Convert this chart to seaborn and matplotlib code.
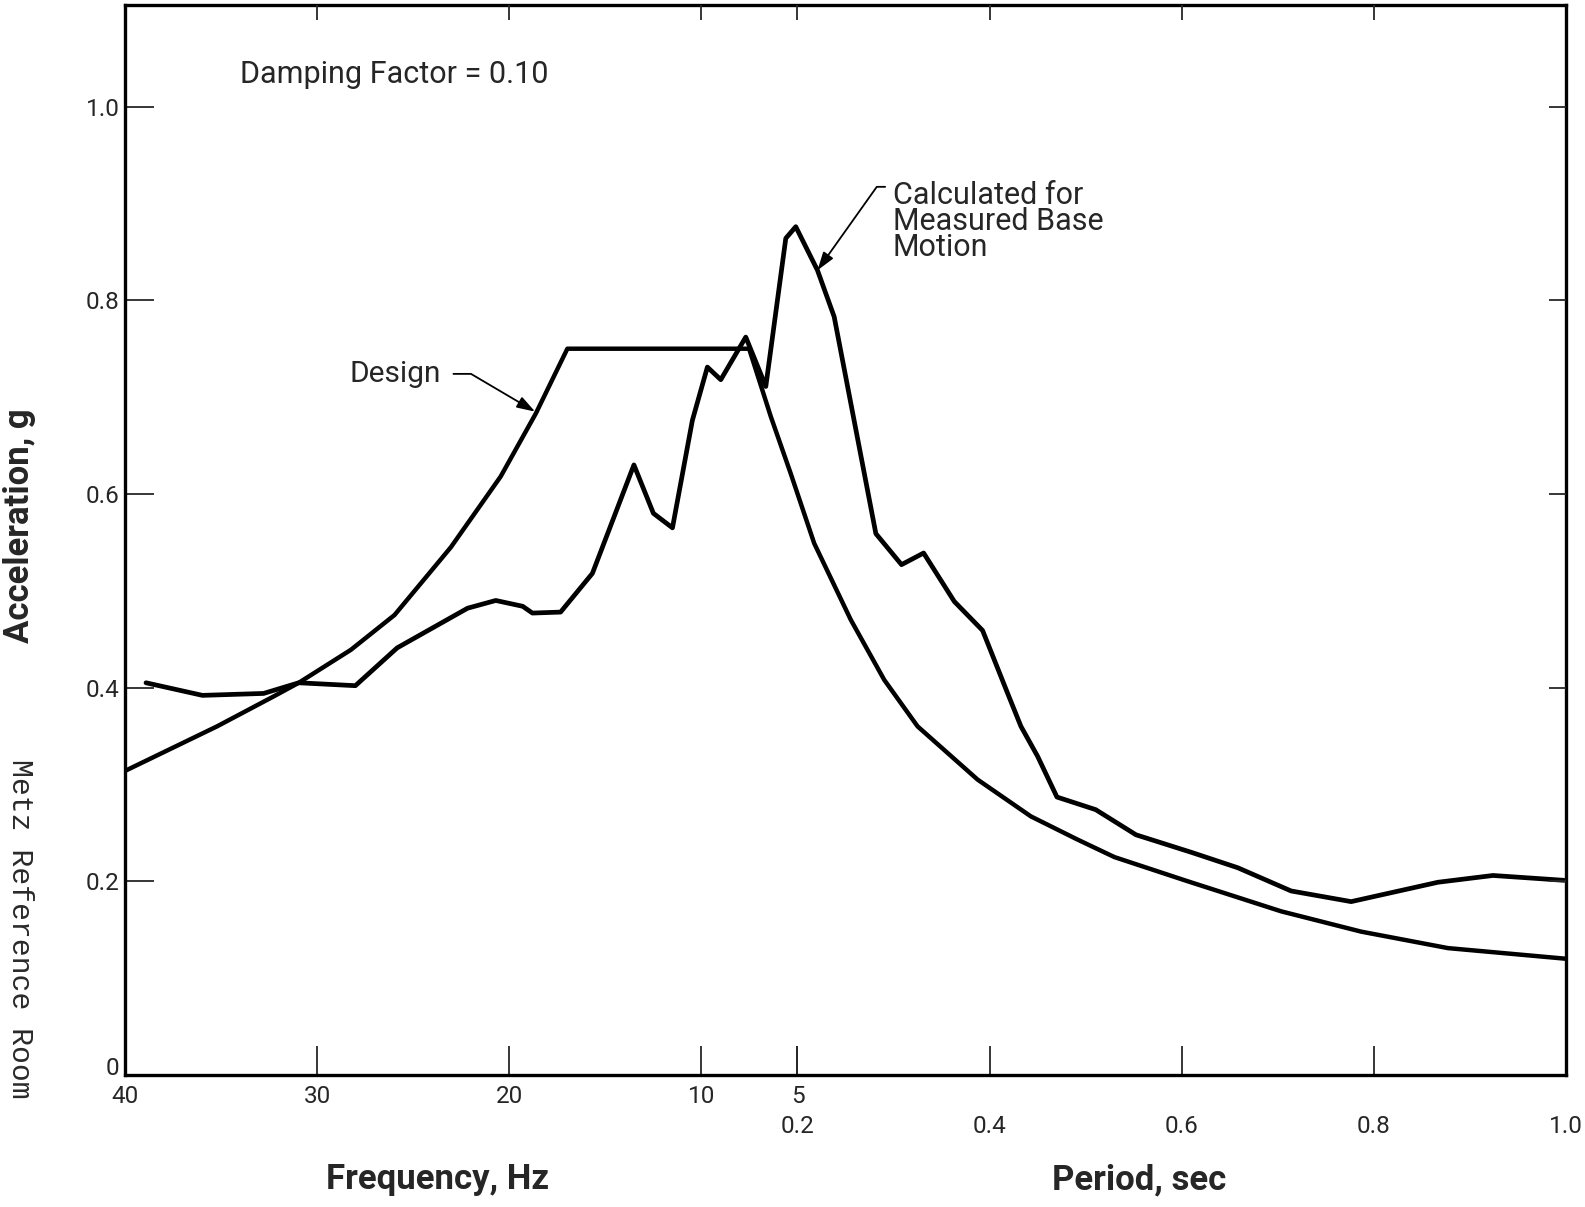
import matplotlib
matplotlib.use("Agg")
import matplotlib.pyplot as plt
import numpy as np
import seaborn as sns

# response spectrum, damping 0.10 -- periods in sec, acceleration in g
measured_period = [0.0257, 0.0278, 0.0305, 0.0323, 0.0357, 0.0387, 0.0398, 0.0451,
                   0.0483, 0.0518, 0.0532, 0.0577, 0.0638, 0.0740, 0.0800, 0.0869,
                   0.0955, 0.1032, 0.1112, 0.1300, 0.1504, 0.1783, 0.1965, 0.2208,
                   0.2382, 0.2816, 0.3083, 0.3313, 0.3632, 0.3927, 0.4188, 0.4326,
                   0.4500, 0.4701, 0.5104, 0.5524, 0.6097, 0.6583, 0.7139, 0.7764,
                   0.8667, 0.9240, 0.9980]
measured_accel = [0.405, 0.392, 0.394, 0.405, 0.402, 0.441, 0.449, 0.482,
                  0.490, 0.484, 0.477, 0.478, 0.518, 0.630, 0.580, 0.565,
                  0.676, 0.731, 0.718, 0.762, 0.711, 0.864, 0.876, 0.831,
                  0.783, 0.559, 0.527, 0.539, 0.489, 0.459, 0.394, 0.360,
                  0.329, 0.287, 0.274, 0.248, 0.230, 0.214, 0.190, 0.179,
                  0.199, 0.206, 0.201]

design_period = [0.0250, 0.0284, 0.0310, 0.0323, 0.0354, 0.0385, 0.0424, 0.0434,
                 0.0489, 0.0537, 0.0589, 0.1330, 0.1565, 0.1869, 0.2174, 0.2555,
                 0.2903, 0.3250, 0.3875, 0.4430, 0.4917, 0.5299, 0.6063, 0.7034,
                 0.7868, 0.8771, 1.0000]
design_accel = [0.314, 0.360, 0.391, 0.405, 0.439, 0.475, 0.532, 0.545,
                0.618, 0.683, 0.750, 0.750, 0.680, 0.621, 0.549, 0.470,
                0.408, 0.360, 0.305, 0.267, 0.243, 0.225, 0.200, 0.169,
                0.148, 0.131, 0.120]

freq_ticks = [40, 30, 20, 10, 5]          # Hz, left part of the axis
period_ticks = [0.2, 0.4, 0.6, 0.8, 1.0]  # sec, right part of the axis
accel_ticks = [0, 0.2, 0.4, 0.6, 0.8, 1.0]


# axis is linear in frequency down to 5 Hz, then linear in period
def to_axis(t):
    t = np.asarray(t, dtype=float)
    with np.errstate(divide="ignore", invalid="ignore"):
        return np.where(t <= 0.2, 40.0 - 1.0 / t, 35.0 + (t - 0.2) * 50.0)


def from_axis(p):
    p = np.asarray(p, dtype=float)
    with np.errstate(divide="ignore", invalid="ignore"):
        return np.where(p <= 35.0, 1.0 / (40.0 - p), 0.2 + (p - 35.0) / 50.0)


sns.set_style("white")
plt.rcParams["font.family"] = ["Roboto", "DejaVu Sans"]

fig = plt.figure(figsize=(15.85, 12.07), dpi=100)
ax = fig.add_axes([0.0789, 0.1094, 0.9091, 0.8865])
ax.set_xscale("function", functions=(to_axis, from_axis))

sns.lineplot(x=design_period, y=design_accel, ax=ax, color="black",
             linewidth=3.2, estimator=None, sort=False)
sns.lineplot(x=measured_period, y=measured_accel, ax=ax, color="black",
             linewidth=3.4, estimator=None, sort=False)

ax.set_xlim(0.025, 1.0)
ax.set_ylim(0, 1.105)

for s in ax.spines.values():
    s.set_linewidth(2.4)
    s.set_color("black")

# bottom: frequency labels on first row, period labels below
ax.xaxis.remove_overlapping_locs = False
ax.set_xticks([1.0 / f for f in freq_ticks])
ax.set_xticklabels([str(f) for f in freq_ticks])
ax.set_xticks(period_ticks, minor=True)
ax.set_xticklabels([f"{p:.1f}" for p in period_ticks], minor=True)
ax.tick_params(axis="x", which="major", direction="in", length=21, width=1.3,
               pad=7, labelsize=17.5, top=False)
ax.tick_params(axis="x", which="minor", direction="in", length=21, width=1.3,
               pad=29, labelsize=17.5, top=False)

ax.set_yticks(accel_ticks)
ax.set_yticklabels(["0", "0.2", "0.4", "0.6", "0.8", "1.0"])
ax.tick_params(axis="y", direction="in", length=21, width=1.3, pad=4,
               labelsize=17.5, right=False)
# the zero sits just above the corner, clear of the "40"
ax.get_yticklabels()[0].set_verticalalignment("baseline")

# shorter tick marks on top and right edges
ax_top = ax.twiny()
ax_top.set_xscale("function", functions=(to_axis, from_axis))
ax_top.set_xlim(0.025, 1.0)
ax_top.set_xticks([1.0 / f for f in freq_ticks[1:]] + period_ticks[1:-1])
ax_top.tick_params(axis="x", direction="in", length=11, width=1.3, labeltop=False)
ax_right = ax.twinx()
ax_right.set_ylim(0, 1.105)
ax_right.set_yticks(accel_ticks[1:])
ax_right.tick_params(axis="y", direction="in", length=12, width=1.3, labelright=False)
for a in (ax_top, ax_right):
    for s in a.spines.values():
        s.set_visible(False)

ax.set_xlabel("")
ax.set_ylabel("Acceleration, g", fontsize=25, fontweight="bold")
ax.yaxis.set_label_coords(-0.062, 0.513)
ax.text(0.217, -0.098, "Frequency, Hz", transform=ax.transAxes, fontsize=25,
        fontweight="bold", ha="center", va="center")
ax.text(0.704, -0.098, "Period, sec", transform=ax.transAxes, fontsize=25,
        fontweight="bold", ha="center", va="center")

ax.text(0.0798, 0.9346, "Damping Factor = 0.10", transform=ax.transAxes,
        fontsize=22, ha="left", va="center")

arrow = dict(arrowstyle="-|>,head_length=0.55,head_width=0.18", color="black",
             lw=1.3, mutation_scale=20, shrinkB=0)
ax.annotate("Design", xy=(0.0536, 0.685), xytext=(0.0424, 0.724),
            fontsize=21.5, ha="right", va="center",
            arrowprops=dict(arrow, connectionstyle="angle,angleA=0,angleB=-30.5,rad=0",
                            relpos=(1, 0.5), shrinkA=7))
ax.annotate("Calculated for\nMeasured Base\nMotion", xy=(0.2208, 0.831),
            xytext=(0.299, 0.923), fontsize=22, ha="left", va="top",
            linespacing=0.86,
            arrowprops=dict(arrow, connectionstyle="angle,angleA=0,angleB=54.6,rad=0",
                            relpos=(0, 0.93), shrinkA=3))

fig.text(20 / 1585, 1 - 929 / 1207, "Metz Reference Room", rotation=-90,
         family="Liberation Mono", fontsize=21.5, color="#2a2a2a",
         ha="center", va="center")

fig.savefig("out.png", dpi=100)
